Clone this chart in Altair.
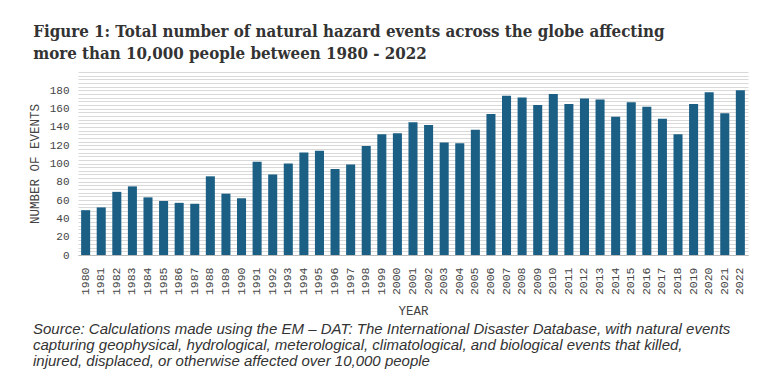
import altair as alt
import pandas as pd

years = [str(y) for y in range(1980, 2023)]
events = [49, 52, 69, 75, 63, 59, 57, 56, 86, 67, 62, 102, 88, 100, 112, 114, 94, 99,
          119, 132, 133, 145, 142, 123, 122, 137, 154, 174, 172, 164, 176, 165, 171, 170,
          151, 167, 162, 149, 132, 165, 178, 155, 180]

title_lines = ["Figure 1: Total number of natural hazard events across the globe affecting",
               "more than 10,000 people between 1980 - 2022"]
source_lines = ["Source: Calculations made using the EM \u2013 DAT: The International Disaster Database, with natural events",
                "capturing geophysical, hydrological, meterological, climatological, and biological events that killed,",
                "injured, displaced, or otherwise affected over 10,000 people"]

df = pd.DataFrame({"year": years, "events": events})

mono = "Liberation Mono"

bars = alt.Chart(df).mark_bar(color="#1b5f84").encode(
    x=alt.X("year:N", title="YEAR",
            scale=alt.Scale(paddingInner=0.42, paddingOuter=0.2),
            axis=alt.Axis(labelAngle=-90, labelFont=mono, labelFontSize=11.5, labelColor="#444",
                          labelPadding=12, ticks=False, domain=True, domainColor="#bbb",
                          titleFont=mono, titleFontSize=12.5, titleFontWeight="normal",
                          titleColor="#444", titlePadding=10, labelBaseline="middle")),
    y=alt.Y("events:Q", title="NUMBER OF EVENTS",
            scale=alt.Scale(domain=[0, 200], nice=False),
            axis=alt.Axis(values=list(range(0, 201, 4)),
                          labelExpr="datum.value % 20 == 0 && datum.value <= 180 ? datum.label : ''",
                          labelFont=mono, labelFontSize=11, labelColor="#444", labelPadding=9,
                          ticks=False, domain=False, gridColor="#d9d9d9", gridWidth=1,
                          titleFont=mono, titleFontSize=12.5, titleFontWeight="normal",
                          titleColor="#444", titlePadding=8)),
)

source = alt.Chart(pd.DataFrame({"t": [0]})).mark_text(
    text=source_lines, align="left", baseline="alphabetic", font="Liberation Sans",
    fontStyle="italic", fontSize=15, lineHeight=16, color="#333"
).encode(x=alt.value(-45), y=alt.value(262))

chart = alt.layer(bars, source).properties(
    width=670, height=183,
    title=alt.TitleParams(text=title_lines, anchor="start", font="DejaVu Serif Condensed",
                          fontSize=16.8, fontWeight="bold", color="#333", lineHeight=22,
                          offset=3, dx=5),
    padding={"left": 20, "top": 16, "right": 5, "bottom": 0},
).configure_view(stroke=None).configure_axis(labelOverlap=False)

chart.save("out.html", embed_options={"renderer": "svg", "actions": False})
